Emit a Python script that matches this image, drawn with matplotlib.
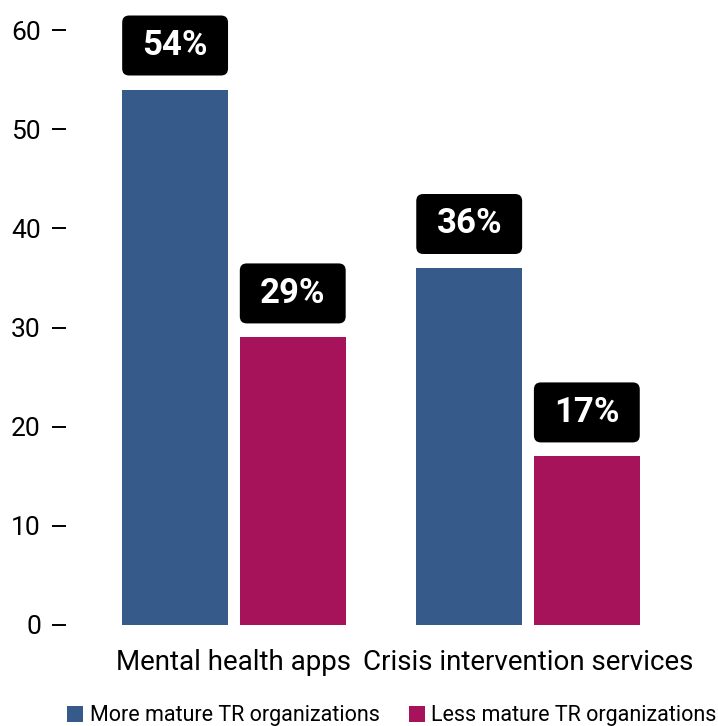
import matplotlib
matplotlib.use("Agg")
import matplotlib.pyplot as plt
from matplotlib.patches import FancyBboxPatch, Patch
import numpy as np

plt.rcParams['font.family'] = ['Roboto', 'DejaVu Sans']

categories = ["Mental health apps", "Crisis intervention services"]
series_names = ["More mature TR organizations", "Less mature TR organizations"]
more_mature = [54, 36]
less_mature = [29, 17]
colors = ["#365A89", "#A6135A"]
yticks = [0, 10, 20, 30, 40, 50, 60]

fig = plt.figure(figsize=(7.18, 7.26), dpi=100)
ax = fig.add_axes([66 / 718, 101 / 726, 652 / 718, 595 / 726])

x = np.arange(len(categories))
width = 0.36
offset = 0.2
ax.set_xlim(-0.571, 1.646)
ax.set_ylim(0, 60)

# pixels per data unit, used to size and round the value boxes
px_x = 652 / (1.646 + 0.571)
px_y = 595 / 60

for vals, dx, col in [(more_mature, -offset, colors[0]), (less_mature, offset, colors[1])]:
    ax.bar(x + dx, vals, width=width, color=col, zorder=2)
    for xi, v in zip(x + dx, vals):
        gap = 14 / px_y
        h = 60 / px_y
        box = FancyBboxPatch((xi - width / 2, v + gap), width, h,
                             boxstyle=f"round,pad=0,rounding_size={7 / px_x}",
                             mutation_aspect=px_x / px_y,
                             facecolor="black", edgecolor="none",
                             clip_on=False, zorder=3)
        ax.add_patch(box)
        ax.text(xi, v + gap + h / 2, f"{v}%", ha="center", va="center",
                color="white", fontsize=25, fontweight="bold", zorder=4,
                clip_on=False)

for s in ax.spines.values():
    s.set_visible(False)

ax.set_yticks(yticks)
ax.set_yticklabels([str(t) for t in yticks])
ax.tick_params(axis="y", length=10, width=1.4, pad=8, labelsize=19, color="black")
ax.set_xticks(x)
ax.set_xticklabels(categories)
ax.tick_params(axis="x", length=0, pad=17, labelsize=20)

handles = [Patch(facecolor=c, edgecolor="none") for c in colors]
fig.legend(handles, series_names, loc="center left", bbox_to_anchor=(67 / 718, 10 / 726),
           ncol=2, frameon=False, fontsize=15.5, handlelength=0.75, handleheight=0.75,
           handletextpad=0.3, columnspacing=1.35, borderaxespad=0, borderpad=0)

fig.savefig("out.png", dpi=100)
